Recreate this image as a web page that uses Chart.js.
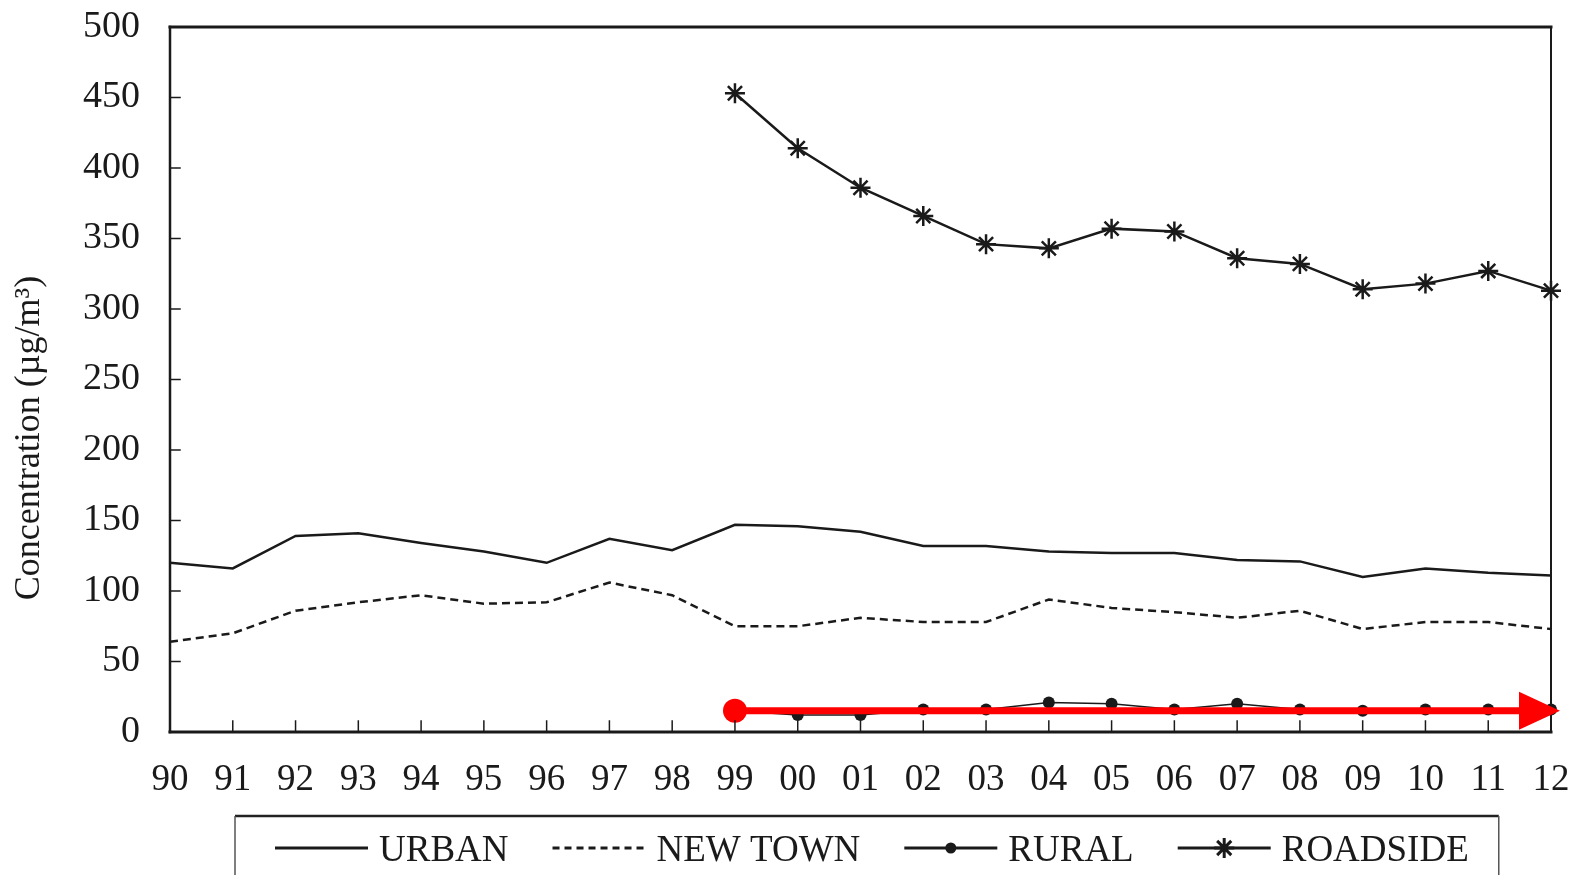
<!DOCTYPE html>
<html><head><meta charset="utf-8">
<script src="https://cdn.jsdelivr.net/npm/chart.js@4.4.1/dist/chart.umd.min.js"></script>
<style>html,body{margin:0;padding:0;background:#fff;overflow:hidden}#wrap{width:1574px;height:875px}</style>
</head><body><div id="wrap"><canvas id="c" width="1574" height="875"></canvas></div>
<script>
const years = ['90','91','92','93','94','95','96','97','98','99','00','01','02','03','04','05','06','07','08','09','10','11','12'];
const urban = [120, 116, 139, 141, 134, 128, 120, 137, 129, 147, 146, 142, 132, 132, 128, 127, 127, 122, 121, 110, 116, 113, 111];
const newTown = [64, 70, 86, 92, 97, 91, 92, 106, 97, 75, 75, 81, 78, 78, 94, 88, 85, 81, 86, 73, 78, 78, 73];
const rural = [null, null, null, null, null, null, null, null, null, 15, 12, 12, 16, 16, 21, 20, 16, 20, 16, 15, 16, 16, 16];
const roadside = [null, null, null, null, null, null, null, null, null, 453, 414, 386, 366, 346, 343, 357, 355, 336, 332, 314, 318, 327, 313];
const arrowLevel = [null, null, null, null, null, null, null, null, null, 15, null, null, null, null, null, null, null, null, null, null, null, null, 15];
const yTickValues = [0, 50, 100, 150, 200, 250, 300, 350, 400, 450, 500];
const seriesNames = ['URBAN', 'NEW TOWN', 'RURAL', 'ROADSIDE'];
const yTitle = 'Concentration (µg/m³)';

const INK = '#1a1a1a';
const FONT = '"Liberation Serif", "Times New Roman", serif';

const framePlugin = {
  id: 'frame',
  afterDatasetsDraw(chart) {
    const ctx = chart.ctx, a = chart.chartArea;
    const xs = chart.scales.x, ys = chart.scales.y;
    ctx.save();
    ctx.strokeStyle = INK;
    ctx.lineCap = 'square';
    ctx.lineWidth = 1.5;
    ys.ticks.forEach(t => {
      const y = ys.getPixelForValue(t.value);
      ctx.beginPath(); ctx.moveTo(a.left, y); ctx.lineTo(a.left + 10, y); ctx.stroke();
    });
    for (let i = 0; i < xs.ticks.length; i++) {
      const x = xs.getPixelForTick(i);
      ctx.beginPath(); ctx.moveTo(x, a.bottom); ctx.lineTo(x, a.bottom - 11); ctx.stroke();
    }
    ctx.lineWidth = 3;
    ctx.beginPath(); ctx.moveTo(a.left, a.top); ctx.lineTo(a.right, a.top); ctx.stroke();
    ctx.beginPath(); ctx.moveTo(a.left, a.bottom); ctx.lineTo(a.right, a.bottom); ctx.stroke();
    ctx.lineWidth = 2.5;
    ctx.beginPath(); ctx.moveTo(a.left, a.top); ctx.lineTo(a.left, a.bottom); ctx.stroke();
    ctx.lineWidth = 2;
    ctx.beginPath(); ctx.moveTo(a.right, a.top); ctx.lineTo(a.right, a.bottom); ctx.stroke();
    ctx.restore();

    const meta = chart.getDatasetMeta(4);
    let last = null;
    meta.data.forEach((p, i) => { if (arrowLevel[i] !== null) last = p; });
    if (last) {
      ctx.save();
      ctx.fillStyle = '#ff0000';
      ctx.beginPath();
      ctx.moveTo(last.x + 9, last.y);
      ctx.lineTo(last.x - 32, last.y - 19);
      ctx.lineTo(last.x - 32, last.y + 19);
      ctx.closePath();
      ctx.fill();
      ctx.restore();
    }
  },
  afterDraw(chart) {
    const ctx = chart.ctx, a = chart.chartArea;
    ctx.save();
    ctx.translate(30, a.bottom - 294);
    ctx.rotate(-Math.PI / 2);
    ctx.fillStyle = INK;
    ctx.font = '36px ' + FONT;
    ctx.textAlign = 'center';
    ctx.textBaseline = 'middle';
    ctx.fillText(yTitle, 0, 0);
    ctx.restore();

    ctx.save();
    ctx.font = '37px ' + FONT;
    ctx.fillStyle = INK;
    ctx.textBaseline = 'alphabetic';
    const ly = 848, lineLen = 93, textGap = 11, itemGap = 44;
    let x = 275;
    seriesNames.forEach((name, i) => {
      const d = chart.data.datasets[i];
      ctx.strokeStyle = INK;
      ctx.lineWidth = 3;
      ctx.setLineDash(d.borderDash ? [7, 5] : []);
      ctx.beginPath(); ctx.moveTo(x, ly); ctx.lineTo(x + lineLen, ly); ctx.stroke();
      ctx.setLineDash([]);
      if (name === 'RURAL') {
        ctx.fillStyle = INK; ctx.beginPath(); ctx.arc(x + lineLen / 2, ly, 5.5, 0, Math.PI * 2); ctx.fill();
      } else if (name === 'ROADSIDE') {
        Chart.helpers.drawPoint(ctx, { pointStyle: 'star', radius: 10, borderWidth: 1.5, rotation: 0 }, x + lineLen / 2, ly);
      }
      ctx.fillStyle = INK;
      ctx.fillText(name, x + lineLen + textGap, ly + 13);
      x += lineLen + textGap + ctx.measureText(name).width + itemGap;
    });
    const boxRight = x - itemGap + 30;
    ctx.strokeStyle = '#222';
    ctx.lineWidth = 2.5;
    ctx.beginPath(); ctx.moveTo(235, 816); ctx.lineTo(boxRight, 816); ctx.stroke();
    ctx.strokeStyle = '#555';
    ctx.lineWidth = 1.5;
    ctx.beginPath(); ctx.moveTo(235, 816); ctx.lineTo(235, 880); ctx.stroke();
    ctx.beginPath(); ctx.moveTo(boxRight, 816); ctx.lineTo(boxRight, 880); ctx.stroke();
    ctx.restore();
  }
};

new Chart(document.getElementById('c'), {
  type: 'line',
  data: {
    labels: years,
    datasets: [
      { label: seriesNames[0], data: urban, borderColor: INK, borderWidth: 2.5, pointRadius: 0, order: 4 },
      { label: seriesNames[1], data: newTown, borderColor: INK, borderWidth: 2.5, borderDash: [8, 5], pointRadius: 0, order: 3 },
      { label: seriesNames[2], data: rural, borderColor: INK, borderWidth: 1.5, pointRadius: 6, pointStyle: 'circle',
        pointBackgroundColor: INK, pointBorderWidth: 0, order: 2 },
      { label: seriesNames[3], data: roadside, borderColor: INK, borderWidth: 2.5, pointRadius: 10, pointStyle: 'star',
        pointBorderColor: INK, pointBorderWidth: 2.5, order: 1 },
      { label: 'arrow', data: arrowLevel, borderColor: '#ff0000', borderWidth: 7, spanGaps: true, clip: false,
        pointRadius: ctx => (ctx.dataIndex === arrowLevel.indexOf(15) ? 12 : 0),
        pointBackgroundColor: '#ff0000', pointBorderWidth: 0, order: 0 }
    ]
  },
  options: {
    responsive: false,
    animation: false,
    devicePixelRatio: 1,
    layout: { padding: { left: 0, right: 23, top: 27, bottom: 67 } },
    plugins: { legend: { display: false }, tooltip: { enabled: false } },
    elements: { line: { tension: 0 } },
    scales: {
      x: {
        type: 'category',
        offset: false,
        grid: { display: false, drawTicks: false },
        border: { display: false },
        ticks: { autoSkip: false, maxRotation: 0, minRotation: 0, padding: 26, color: INK, font: { family: FONT, size: 37 } },
        afterFit: s => { s.height = 76; s.paddingLeft = 0; s.paddingRight = 0; }
      },
      y: {
        min: 0, max: 500,
        afterBuildTicks: s => { s.ticks = yTickValues.map(v => ({ value: v })); },
        grid: { display: false, drawTicks: false },
        border: { display: false },
        ticks: { padding: 30, color: INK, font: { family: FONT, size: 38 } },
        afterFit: s => { s.width = 170; s.paddingTop = 0; s.paddingBottom = 0; }
      }
    }
  },
  plugins: [framePlugin]
});
</script>
</body></html>
